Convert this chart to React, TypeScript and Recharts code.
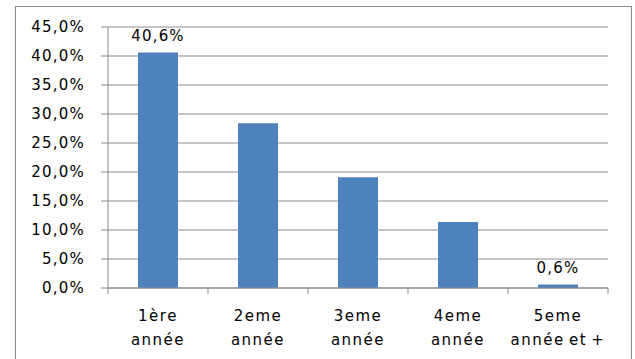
import { BarChart, Bar, XAxis, YAxis, CartesianGrid, LabelList } from 'recharts'

// catégories et valeurs (en %)
const categories = ['1ère année', '2eme année', '3eme année', '4eme année', '5eme année et +']
const values = [40.6, 28.4, 19.1, 11.4, 0.6]
// étiquettes affichées seulement sur la première et la dernière barre
const barLabels = ['40,6%', '', '', '', '0,6%']
const yTicks = [0, 5, 10, 15, 20, 25, 30, 35, 40, 45]

const lineBreaks: Record<string, string[]> = {
  '1ère année': ['1ère', 'année'],
  '2eme année': ['2eme', 'année'],
  '3eme année': ['3eme', 'année'],
  '4eme année': ['4eme', 'année'],
  '5eme année et +': ['5eme', 'année et +'],
}

const data = categories.map((c, i) => ({ name: c, value: values[i], label: barLabels[i] }))

const FONT = '"DejaVu Sans", Verdana, sans-serif'
const GRID = '#8a8a8a'

const formatPct = (v: number) => v.toFixed(1).replace('.', ',') + '%'

function CategoryTick(props: any) {
  const { x, y, payload, index } = props
  const half = payload?.offset || 50
  const lines = lineBreaks[payload.value] || [payload.value]
  const axisY = y - 8
  return (
    <g>
      <line x1={x - half} y1={axisY} x2={x - half} y2={axisY + 6} stroke={GRID} />
      {index === categories.length - 1 && (
        <line x1={x + half} y1={axisY} x2={x + half} y2={axisY + 6} stroke={GRID} />
      )}
      {lines.map((l, i) => (
        <text
          key={i}
          x={x}
          y={axisY + 33 + i * 24}
          textAnchor="middle"
          fontFamily={FONT}
          fontSize={15}
          letterSpacing={1.5}
          wordSpacing={-2}
          fill="#000"
        >
          {l}
        </text>
      ))}
    </g>
  )
}

function PctTick(props: any) {
  const { x, y, payload } = props
  return (
    <text x={x} y={y + 5} textAnchor="end" fontFamily={FONT} fontSize={15} letterSpacing={1.2} fill="#000">
      {formatPct(payload.value)}
    </text>
  )
}

function BarLabel(props: any) {
  const { x, y, width, value } = props
  if (!value) return null
  return (
    <text
      x={x + width / 2}
      y={y - 12}
      textAnchor="middle"
      fontFamily={FONT}
      fontSize={15}
      letterSpacing={1.2}
      fill="#000"
    >
      {value}
    </text>
  )
}

export default function App() {
  return (
    <div style={{ position: 'fixed', left: 0, top: 0, width: 635, height: 359, background: '#fff', overflow: 'hidden' }}>
      <div
        style={{
          position: 'absolute',
          left: 15,
          top: 6,
          width: 617,
          height: 380,
          border: '1px solid #8a8a8a',
          boxSizing: 'border-box',
        }}
      />
      <div style={{ position: 'absolute', left: 0, top: 0 }}>
        <BarChart
          width={635}
          height={359}
          data={data}
          margin={{ top: 27, right: 27, left: 0, bottom: 0 }}
          barCategoryGap="30%"
        >
          <CartesianGrid vertical={false} stroke={GRID} strokeWidth={1} />
          <XAxis
            dataKey="name"
            height={71}
            axisLine={{ stroke: GRID }}
            tickLine={false}
            tick={<CategoryTick />}
            interval={0}
          />
          <YAxis
            width={108}
            domain={[0, 45]}
            ticks={yTicks}
            axisLine={{ stroke: GRID }}
            tickLine={{ stroke: GRID }}
            tickSize={7}
            tickMargin={16}
            tick={<PctTick />}
            interval={0}
          />
          <Bar dataKey="value" fill="#4F81BD" isAnimationActive={false}>
            <LabelList dataKey="label" content={<BarLabel />} />
          </Bar>
        </BarChart>
      </div>
    </div>
  )
}
